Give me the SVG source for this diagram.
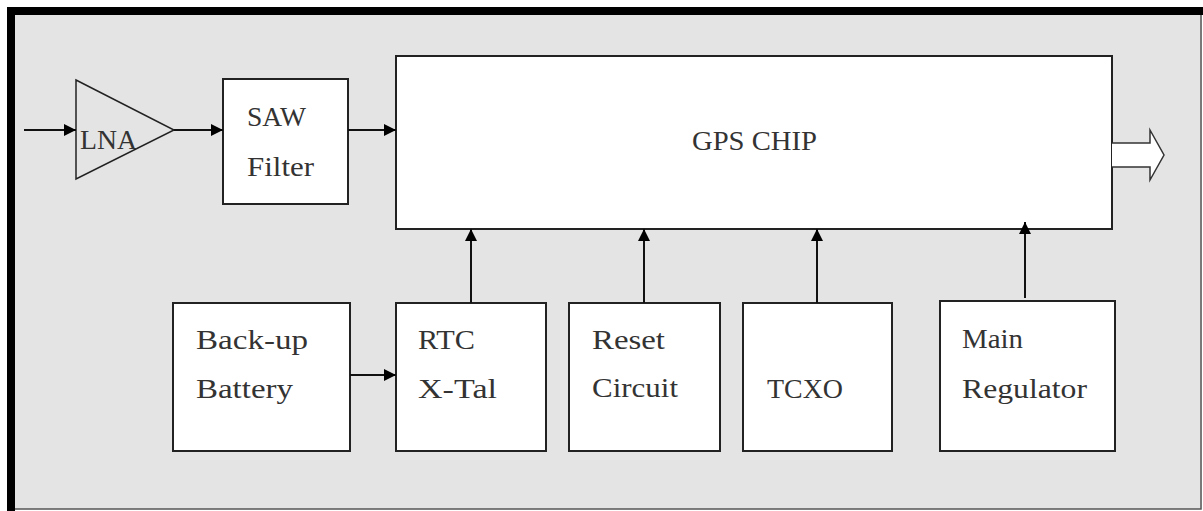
<svg xmlns="http://www.w3.org/2000/svg" width="1203" height="511" viewBox="0 0 1203 511">
<style>
.box{fill:#fff;stroke:#222;stroke-width:2}
.lbl{font-family:"Liberation Serif","Times New Roman",serif;font-size:28px;fill:#333}
.wire{stroke:#111;stroke-width:2;fill:none}
</style>
<defs>
<marker id="ah" viewBox="0 0 12 12" refX="12" refY="6" markerWidth="12" markerHeight="12" markerUnits="userSpaceOnUse" orient="auto">
<path d="M0,0 L12,6 L0,12 Z" fill="#000"/>
</marker>
</defs>
<rect x="0" y="0" width="1203" height="511" fill="#fff"/>
<rect x="11" y="11" width="1191" height="498" fill="#e4e4e4"/>
<path d="M11,509 L1201,509 L1201,11" fill="none" stroke="#555" stroke-width="1.5"/>
<path d="M11,511 L11,11 L1203,11" fill="none" stroke="#000" stroke-width="8"/>

<g id="lna">
<polygon points="76,80 174,130 76,179" fill="none" stroke="#222" stroke-width="1.5"/>
<text class="lbl" x="80" y="149" textLength="57" lengthAdjust="spacingAndGlyphs">LNA</text>
</g>
<g id="saw">
<rect class="box" x="223" y="79" width="125" height="125"/>
<text class="lbl" x="247" y="126" textLength="59" lengthAdjust="spacingAndGlyphs">SAW</text>
<text class="lbl" x="247" y="176" textLength="67" lengthAdjust="spacingAndGlyphs">Filter</text>
</g>
<g id="gps">
<rect class="box" x="396" y="56" width="716" height="173"/>
<text class="lbl" x="692" y="150" textLength="125" lengthAdjust="spacingAndGlyphs">GPS CHIP</text>
</g>
<g id="output">
<path d="M1112,143 L1150,143 L1150,130 L1164,155 L1150,180 L1150,167 L1112,167" fill="#fff" stroke="#333" stroke-width="1.5"/>
</g>
<g id="battery">
<rect class="box" x="173" y="303" width="177" height="148"/>
<text class="lbl" x="196" y="349" textLength="112" lengthAdjust="spacingAndGlyphs">Back-up</text>
<text class="lbl" x="196" y="398" textLength="97" lengthAdjust="spacingAndGlyphs">Battery</text>
</g>
<g id="rtc">
<rect class="box" x="396" y="303" width="150" height="148"/>
<text class="lbl" x="418" y="349" textLength="57" lengthAdjust="spacingAndGlyphs">RTC</text>
<text class="lbl" x="418" y="398" textLength="79" lengthAdjust="spacingAndGlyphs">X-Tal</text>
</g>
<g id="reset">
<rect class="box" x="569" y="303" width="151" height="148"/>
<text class="lbl" x="592" y="349" textLength="73" lengthAdjust="spacingAndGlyphs">Reset</text>
<text class="lbl" x="592" y="397" textLength="86" lengthAdjust="spacingAndGlyphs">Circuit</text>
</g>
<g id="tcxo">
<rect class="box" x="743" y="303" width="149" height="148"/>
<text class="lbl" x="767" y="398" textLength="76" lengthAdjust="spacingAndGlyphs">TCXO</text>
</g>
<g id="regulator">
<rect class="box" x="940" y="301" width="175" height="150"/>
<text class="lbl" x="962" y="348" textLength="61" lengthAdjust="spacingAndGlyphs">Main</text>
<text class="lbl" x="962" y="398" textLength="125" lengthAdjust="spacingAndGlyphs">Regulator</text>
</g>
<g id="connectors">
<line class="wire" x1="24" y1="130" x2="76" y2="130" marker-end="url(#ah)"/>
<line class="wire" x1="174" y1="130" x2="223" y2="130" marker-end="url(#ah)"/>
<line class="wire" x1="348" y1="130" x2="396" y2="130" marker-end="url(#ah)"/>
<line class="wire" x1="350" y1="375" x2="396" y2="375" marker-end="url(#ah)"/>
<line class="wire" x1="471" y1="303" x2="471" y2="229" marker-end="url(#ah)"/>
<line class="wire" x1="644" y1="303" x2="644" y2="229" marker-end="url(#ah)"/>
<line class="wire" x1="817" y1="303" x2="817" y2="229" marker-end="url(#ah)"/>
<line class="wire" x1="1025" y1="298" x2="1025" y2="222" marker-end="url(#ah)"/>
</g>
</svg>
